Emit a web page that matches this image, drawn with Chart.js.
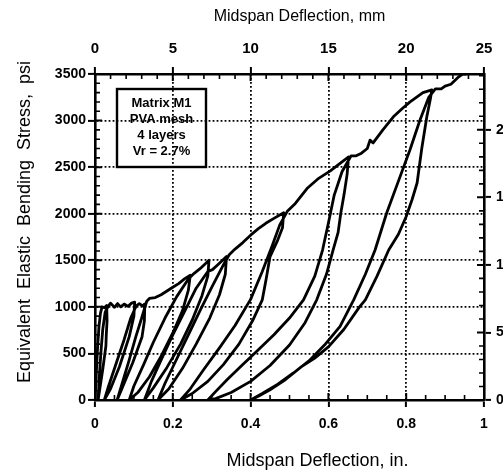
<!DOCTYPE html>
<html>
<head>
<meta charset="utf-8">
<script src="https://cdn.jsdelivr.net/npm/chart.js@4.4.0/dist/chart.umd.min.js"></script>
<style>
  html, body { margin: 0; padding: 0; background: #fff; overflow: hidden; }
  #wrap { width: 503px; height: 471px; }
</style>
</head>
<body>
<div id="wrap"><canvas id="cycles" width="503" height="471"></canvas></div>
<script>
// Midspan deflection (in.) vs equivalent elastic bending stress (psi),
// recorded as one path: loading, then unload / reload cycles.
const initialLoad = [[0, 0], [0.003, 250], [0.006, 520], [0.010, 780], [0.014, 930], [0.018, 1000], [0.024, 990], [0.030, 1015]];
const unload1 = [[0.031, 850], [0.029, 700], [0.028, 580], [0.020, 330], [0.012, 110], [0.008, 0]];
const reload1 = [[0.011, 240], [0.015, 500], [0.020, 760], [0.026, 940], [0.033, 1000]];
const plateau = [[0.040, 1040], [0.050, 995], [0.058, 1035], [0.066, 1000], [0.075, 1030], [0.085, 1005], [0.094, 1040], [0.102, 1050]];
const unload2 = [[0.100, 900], [0.088, 680], [0.063, 360], [0.040, 120], [0.024, 0]];
const reload2 = [[0.035, 150], [0.055, 400], [0.075, 650], [0.092, 880], [0.106, 1010]];
const load2 = [[0.114, 1035], [0.122, 1010], [0.128, 1030]];
const unload3 = [[0.127, 850], [0.121, 680], [0.097, 400], [0.071, 140], [0.057, 0]];
const reload3 = [[0.070, 180], [0.088, 430], [0.105, 680], [0.120, 880], [0.133, 1060]];
const load3 = [[0.140, 1090], [0.155, 1100], [0.170, 1130], [0.185, 1170], [0.200, 1210], [0.215, 1250], [0.230, 1300], [0.245, 1340]];
const unload4 = [[0.240, 1180], [0.225, 960], [0.200, 720], [0.170, 470], [0.140, 250], [0.110, 80], [0.088, 0]];
const reload4 = [[0.100, 150], [0.125, 380], [0.150, 620], [0.180, 880], [0.210, 1110], [0.240, 1300], [0.255, 1360]];
const load4 = [[0.270, 1410], [0.283, 1460], [0.293, 1500]];
const unload5 = [[0.290, 1330], [0.275, 1120], [0.250, 860], [0.220, 600], [0.185, 350], [0.150, 130], [0.127, 0]];
const reload5 = [[0.145, 200], [0.170, 430], [0.200, 700], [0.230, 950], [0.260, 1200], [0.290, 1380], [0.302, 1400]];
const load5 = [[0.315, 1450], [0.328, 1500], [0.338, 1540]];
const unload6 = [[0.335, 1350], [0.320, 1130], [0.295, 880], [0.260, 600], [0.225, 340], [0.190, 120], [0.162, 0]];
const reload6 = [[0.180, 180], [0.210, 440], [0.240, 700], [0.270, 960], [0.300, 1210], [0.330, 1450], [0.345, 1560]];
const load6 = [[0.360, 1620], [0.380, 1690], [0.400, 1770], [0.420, 1840], [0.440, 1900], [0.460, 1950], [0.485, 2010]];
const unload7 = [[0.482, 1850], [0.468, 1700], [0.450, 1540], [0.440, 1300], [0.430, 1075], [0.405, 850], [0.370, 600], [0.330, 380], [0.290, 200], [0.250, 70], [0.220, 0]];
const reload7 = [[0.245, 120], [0.280, 330], [0.320, 560], [0.360, 800], [0.400, 1080], [0.430, 1380], [0.455, 1650], [0.475, 1880], [0.495, 2030]];
const load7 = [[0.515, 2110], [0.545, 2270], [0.575, 2380], [0.605, 2460], [0.630, 2540], [0.652, 2610]];
const unload8 = [[0.648, 2420], [0.640, 2200], [0.632, 2010], [0.625, 1800], [0.612, 1610], [0.595, 1350], [0.570, 1075], [0.540, 830], [0.500, 590], [0.450, 370], [0.400, 200], [0.350, 80], [0.310, 15], [0.290, 0]];
const reload8 = [[0.310, 90], [0.340, 220], [0.380, 380], [0.420, 540], [0.460, 700], [0.500, 880], [0.536, 1075], [0.565, 1330], [0.585, 1610], [0.600, 1900], [0.615, 2200], [0.635, 2450], [0.658, 2620]];
const load8 = [[0.670, 2620], [0.685, 2650], [0.700, 2700], [0.707, 2790], [0.715, 2760], [0.740, 2900], [0.767, 3040], [0.790, 3130], [0.810, 3200], [0.843, 3300], [0.866, 3330]];
const unload9 = [[0.862, 3230], [0.853, 3040], [0.840, 2700], [0.828, 2330], [0.815, 2150], [0.800, 1970], [0.780, 1780], [0.755, 1610], [0.725, 1330], [0.695, 1075], [0.680, 1000], [0.640, 760], [0.600, 570], [0.565, 450], [0.530, 355], [0.490, 220], [0.450, 110], [0.420, 40], [0.400, 0]];
const reload9 = [[0.430, 70], [0.470, 170], [0.510, 290], [0.550, 420], [0.590, 590], [0.630, 790], [0.665, 1075], [0.695, 1350], [0.720, 1610], [0.750, 2010], [0.780, 2350], [0.810, 2690], [0.835, 3000], [0.858, 3250], [0.875, 3340]];
const finalLoad = [[0.890, 3340], [0.900, 3370], [0.915, 3390], [0.925, 3430], [0.935, 3470], [0.945, 3500], [0.955, 3500]];

const inchTicks = [0, 0.2, 0.4, 0.6, 0.8, 1];
const mmTicks = [0, 5, 10, 15, 20, 25];
const psiTicks = [0, 500, 1000, 1500, 2000, 2500, 3000, 3500];
const mpaTicks = [0, 5, 10, 15, 20];

const legendLines = ['Matrix M1', 'PVA mesh', '4 layers', 'Vr = 2.7%'];

const PSI_PER_MPA = 145.038;
const FONT = '"Liberation Sans", Arial, Helvetica, sans-serif';

const path = [
  initialLoad, unload1, reload1, plateau, unload2, reload2, load2, unload3, reload3,
  load3, unload4, reload4, load4, unload5, reload5, load5, unload6, reload6,
  load6, unload7, reload7, load7, unload8, reload8, load8, unload9, reload9, finalLoad
].flat().map(([x, y]) => ({ x, y }));

const tickFont = { family: FONT, size: 14, weight: 'bold' };

function useTicks(values) {
  return scale => { scale.ticks = values.map(v => ({ value: v })); };
}

// inner tick marks, minor ticks, axis titles and the specimen box
const axisDecor = {
  id: 'axisDecor',
  afterDraw(chart) {
    const { ctx, chartArea: a, scales } = chart;
    ctx.save();
    ctx.strokeStyle = '#000';

    const marks = (scale, values, len, width) => {
      ctx.lineWidth = width;
      ctx.beginPath();
      values.forEach(v => {
        const p = scale.getPixelForValue(v);
        if (scale.position === 'bottom') { ctx.moveTo(p, a.bottom); ctx.lineTo(p, a.bottom - len); }
        else if (scale.position === 'top') { ctx.moveTo(p, a.top); ctx.lineTo(p, a.top + len); }
        else if (scale.position === 'left') { ctx.moveTo(a.left, p); ctx.lineTo(a.left + len, p); }
        else { ctx.moveTo(a.right, p); ctx.lineTo(a.right - len, p); }
      });
      ctx.stroke();
    };
    const minor = (step, count, every) => {
      const out = [];
      for (let i = 1; i < count; i++) if (i % every) out.push(i * step);
      return out;
    };

    marks(scales.x, inchTicks, 7, 2);
    marks(scales.x2, mmTicks, 7, 2);
    marks(scales.y, psiTicks, 7, 2);
    marks(scales.y2, mpaTicks, 7, 2);
    marks(scales.x, minor(0.05, 20, 4), 5, 1.6);
    marks(scales.x2, minor(1, 25, 5), 5, 1.6);
    marks(scales.y, minor(100, 35, 5), 5, 1.6);
    marks(scales.y2, minor(1, 25, 5), 5, 1.6);

    // axis titles
    const cx = (a.left + a.right) / 2;
    ctx.fillStyle = '#000';
    ctx.textAlign = 'center';
    ctx.textBaseline = 'middle';
    ctx.font = '16px ' + FONT;
    ctx.fillText('Midspan Deflection, mm', cx + 10, 17);
    ctx.font = '18px ' + FONT;
    ctx.fillText('Midspan Deflection, in.', cx + 28, 461);
    ctx.save();
    ctx.translate(25, (a.top + a.bottom) / 2 - 15);
    ctx.rotate(-Math.PI / 2);
    ctx.fillText('Equivalent  Elastic  Bending  Stress,  psi', 0, 0);
    ctx.restore();

    // specimen box
    const bx = a.left + 22, by = a.top + 15, bw = 89, bh = 78;
    ctx.lineWidth = 2.4;
    ctx.strokeRect(bx, by, bw, bh);
    ctx.font = 'bold 13px ' + FONT;
    legendLines.forEach((t, i) => ctx.fillText(t, bx + bw / 2, by + 14 + i * 16.3));
    ctx.restore();
  }
};

const gridDots = { color: '#000', lineWidth: 1.8, tickLength: 7, tickColor: '#000', tickWidth: 2 };
const axisLine = { color: '#000', width: 2.6, dash: [1.8, 2.2] };

new Chart(document.getElementById('cycles'), {
  type: 'scatter',
  data: {
    datasets: [{
      data: path,
      showLine: true,
      borderColor: '#000',
      borderWidth: 2.8,
      borderJoinStyle: 'round',
      pointRadius: 0,
      tension: 0,
      fill: false
    }]
  },
  options: {
    responsive: false,
    animation: false,
    layout: { padding: 0 },
    plugins: { legend: { display: false }, tooltip: { enabled: false } },
    scales: {
      x: {
        type: 'linear', position: 'bottom', min: 0, max: 1,
        afterBuildTicks: useTicks(inchTicks),
        afterFit: s => { s.height = 71; },
        ticks: { font: tickFont, color: '#000', padding: 9, maxRotation: 0, callback: v => String(v) },
        grid: gridDots,
        border: axisLine
      },
      x2: {
        type: 'linear', position: 'top', min: 0, max: 25,
        afterBuildTicks: useTicks(mmTicks),
        afterFit: s => { s.height = 74; },
        ticks: { font: { family: FONT, size: 15, weight: 'bold' }, color: '#000', padding: 9, maxRotation: 0, callback: v => String(v) },
        grid: { ...gridDots, drawOnChartArea: false },
        border: { color: '#000', width: 2.6 }
      },
      y: {
        type: 'linear', position: 'left', min: 0, max: 3500,
        afterBuildTicks: useTicks(psiTicks),
        afterFit: s => { s.width = 95; },
        ticks: { font: tickFont, color: '#000', padding: 2, callback: v => String(v) },
        grid: gridDots,
        border: axisLine
      },
      y2: {
        type: 'linear', position: 'right', min: 0, max: 3500 / PSI_PER_MPA,
        afterBuildTicks: useTicks(mpaTicks),
        afterFit: s => { s.width = 19; },
        ticks: { font: tickFont, color: '#000', padding: 5, callback: v => String(v) },
        grid: { ...gridDots, drawOnChartArea: false },
        border: { color: '#000', width: 2.6 }
      }
    }
  },
  plugins: [axisDecor]
});
</script>
</body>
</html>
